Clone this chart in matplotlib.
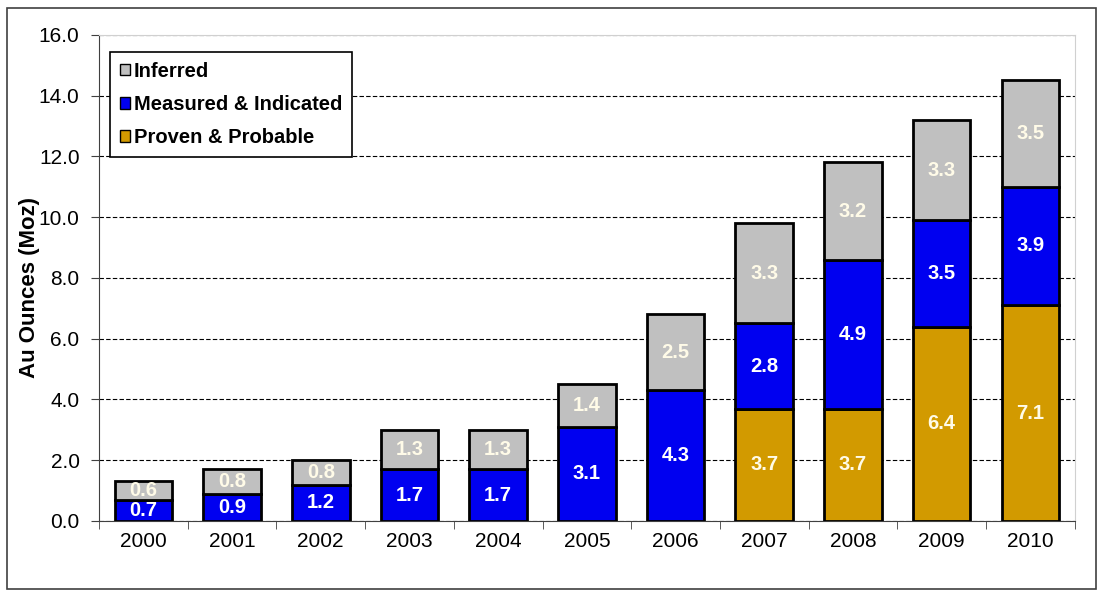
import matplotlib
matplotlib.use("Agg")
import matplotlib.pyplot as plt
import numpy as np
from matplotlib.patches import Rectangle

plt.rcParams["font.family"] = ["Liberation Sans", "DejaVu Sans"]

years = ["2000", "2001", "2002", "2003", "2004", "2005",
         "2006", "2007", "2008", "2009", "2010"]
proven = [0, 0, 0, 0, 0, 0, 0, 3.7, 3.7, 6.4, 7.1]
measured = [0.7, 0.9, 1.2, 1.7, 1.7, 3.1, 4.3, 2.8, 4.9, 3.5, 3.9]
inferred = [0.6, 0.8, 0.8, 1.3, 1.3, 1.4, 2.5, 3.3, 3.2, 3.3, 3.5]

gold = "#D29A00"
blue = "#0000F0"
gray = "#C0C0C0"

fig = plt.figure(figsize=(11, 5.9), dpi=100)
ax = fig.add_axes([0.09, 0.117, 0.887, 0.824])

# outer frame around the whole chart
fig.patches.append(Rectangle((0.006, 0.002), 0.99, 0.984, transform=fig.transFigure,
                             fill=False, edgecolor="#404040", linewidth=1.2))

x = np.arange(len(years))
w = 0.65
proven = np.array(proven)
measured = np.array(measured)
inferred = np.array(inferred)

series = [
    ("Proven & Probable", proven, np.zeros(len(x)), gold),
    ("Measured & Indicated", measured, proven, blue),
    ("Inferred", inferred, proven + measured, gray),
]
handles = {}
for name, vals, bottom, color in series:
    mask = vals > 0
    bars = ax.bar(x[mask], vals[mask], w, bottom=bottom[mask], color=color,
                  edgecolor="black", linewidth=2, label=name, zorder=3)
    handles[name] = bars
    txtcol = "white" if color == blue else "#FFFBE8"
    for xi, v, b in zip(x[mask], vals[mask], bottom[mask]):
        ax.text(xi, b + v / 2, f"{v:.1f}", ha="center", va="center",
                color=txtcol, fontsize=14.5, fontweight="bold", zorder=4)

ax.set_xlim(-0.5, len(years) - 0.5)
ax.set_ylim(0, 16)
ax.set_yticks(np.arange(0, 16.1, 2))
ax.set_yticklabels([f"{v:.1f}" for v in np.arange(0, 16.1, 2)], fontsize=15)
ax.set_xticks(x)
ax.set_xticklabels(years, fontsize=15)
ax.set_xticks(np.arange(-0.5, len(years), 1), minor=True)
ax.tick_params(axis="x", which="major", length=0, pad=8)
ax.tick_params(axis="x", which="minor", length=6, color="#404040")
ax.tick_params(axis="y", length=6, color="#404040", pad=8)

ax.yaxis.grid(True, linestyle=(0, (4, 2)), color="black", linewidth=0.8, zorder=0)
ax.set_axisbelow(True)
ax.spines["left"].set_color("#404040")
ax.spines["bottom"].set_color("#404040")
ax.spines["top"].set_color("#D0D0D0")
ax.spines["right"].set_color("#D0D0D0")

ax.set_ylabel("Au Ounces (Moz)", fontsize=16, fontweight="bold")
ax.yaxis.set_label_coords(-0.06, 0.48)

order = ["Inferred", "Measured & Indicated", "Proven & Probable"]
leg = ax.legend([handles[n] for n in order], order, loc="upper left",
                bbox_to_anchor=(0.011, 0.965), fancybox=False, framealpha=1,
                edgecolor="black", prop={"weight": "bold", "size": 14.5},
                handlelength=0.5, handleheight=0.5, handletextpad=0.2,
                labelspacing=0.7, borderpad=0.5, borderaxespad=0)
leg.get_frame().set_linewidth(1.2)
for h in leg.legend_handles:
    h.set_linewidth(1)

fig.savefig("out.png", dpi=100)
